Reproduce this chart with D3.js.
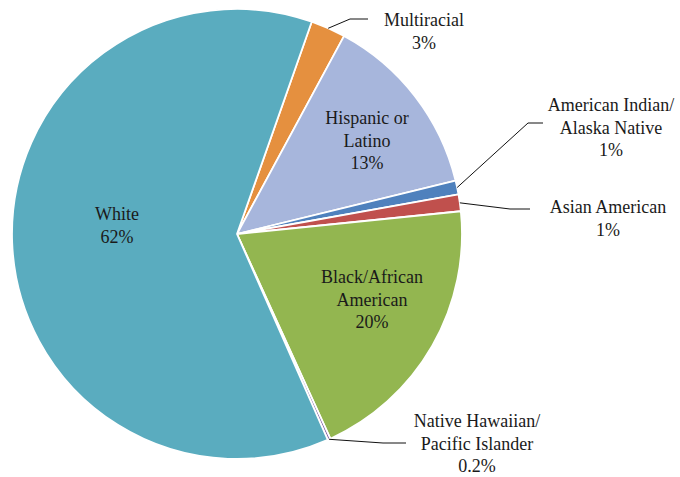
<!DOCTYPE html>
<html>
<head>
<meta charset="utf-8">
<script src="https://cdn.jsdelivr.net/npm/d3@7/dist/d3.min.js"></script>
<style>
  html, body { margin: 0; padding: 0; background: #fff; }
</style>
</head>
<body>
<svg id="chart" width="680" height="477"></svg>
<script>
// Population share by race/ethnicity (percent), clockwise from the top-right
const groups = ["Multiracial", "Hispanic or Latino", "American Indian/Alaska Native",
                "Asian American", "Black/African American", "Native Hawaiian/Pacific Islander", "White"];
const shares = [2.5, 13.3, 1.0, 1.2, 19.8, 0.2, 62.0];
const shareLabels = ["3%", "13%", "1%", "1%", "20%", "0.2%", "62%"];
const labelLines = [
  ["Multiracial"],
  ["Hispanic or", "Latino"],
  ["American Indian/", "Alaska Native"],
  ["Asian American"],
  ["Black/African", "American"],
  ["Native Hawaiian/", "Pacific Islander"],
  ["White"]
];
const colors = ["#e5903f", "#a7b6dc", "#4f81bd", "#c0504d", "#93b650", "#7f5fa3", "#5aacbf"];

// Label placement: centre of first text line, and the leader line bends for outside labels
const labelLayout = [
  { x: 424, y: 20, leader: true, elbow: [350, 19], end: [368, 19] },
  { x: 367, y: 118, leader: false },
  { x: 611, y: 105, leader: true, elbow: [528, 123], end: [543, 123] },
  { x: 608, y: 207, leader: true, elbow: [510, 209], end: [530, 209] },
  { x: 372, y: 277, leader: false },
  { x: 477, y: 421, leader: true, elbow: [383, 443], end: [406, 443] },
  { x: 117, y: 214, leader: false }
];
const lineHeight = 22.5;
const fontStack = "Liberation Serif";

const cx = 237, cy = 234, radius = 225;
const startDeg = 19.4;

const svg = d3.select("#chart");
const g = svg.append("g").attr("transform", `translate(${cx},${cy})`);

const pie = d3.pie().sort(null).value(d => d)
  .startAngle(startDeg * Math.PI / 180)
  .endAngle(startDeg * Math.PI / 180 + 2 * Math.PI);
const arcs = pie(shares);
const arc = d3.arc().innerRadius(0).outerRadius(radius);

g.selectAll("path.slice")
  .data(arcs)
  .join("path")
  .attr("class", "slice")
  .attr("d", arc)
  .attr("fill", (d, i) => colors[i])
  .attr("stroke", "#fff")
  .attr("stroke-width", 1.8)
  .attr("stroke-linejoin", "round");

// Leader lines from slice edge to outside labels
arcs.forEach((d, i) => {
  const L = labelLayout[i];
  if (!L.leader) return;
  const mid = (d.startAngle + d.endAngle) / 2;
  const px = cx + Math.sin(mid) * radius;
  const py = cy - Math.cos(mid) * radius;
  svg.append("polyline")
    .attr("points", [[px, py], L.elbow, L.end].map(p => p.join(",")).join(" "))
    .attr("fill", "none")
    .attr("stroke", "#111")
    .attr("stroke-width", 1);
});

// Labels
arcs.forEach((d, i) => {
  const L = labelLayout[i];
  const lines = labelLines[i].concat([shareLabels[i]]);
  const t = svg.append("text")
    .attr("text-anchor", "middle")
    .attr("font-family", fontStack)
    .attr("font-size", 18)
    .attr("fill", "#1a1a1a");
  lines.forEach((s, k) => {
    t.append("tspan")
      .attr("x", L.x)
      .attr("y", L.y + k * lineHeight)
      .attr("dy", "0.35em")
      .text(s);
  });
});
</script>
</body>
</html>
